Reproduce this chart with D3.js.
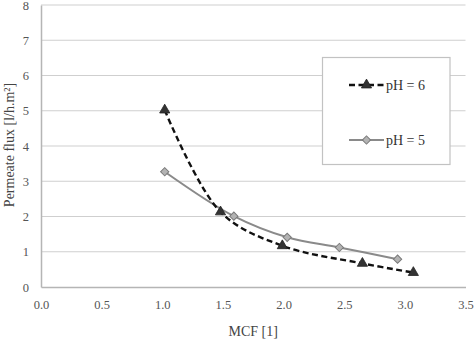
<!DOCTYPE html>
<html>
<head>
<meta charset="utf-8">
<script src="https://cdn.jsdelivr.net/npm/d3@7"></script>
<style>
  html, body { margin: 0; padding: 0; background: #fff; }
  svg { display: block; }
  svg text { font-family: "Liberation Serif", "Times New Roman", serif; }
</style>
</head>
<body>
<svg id="chart" width="474" height="340"></svg>
<script>
// Permeate flux against MCF for two pH levels
const mcfPH6 = [1.02, 1.48, 1.99, 2.65, 3.07];
const fluxPH6 = [5.02, 2.13, 1.17, 0.67, 0.41];
const mcfPH5 = [1.02, 1.59, 2.03, 2.46, 2.94];
const fluxPH5 = [3.27, 2.01, 1.41, 1.12, 0.79];
const xTicks = [0, 0.5, 1, 1.5, 2, 2.5, 3, 3.5];
const yTicks = [0, 1, 2, 3, 4, 5, 6, 7, 8];
const seriesNames = ["pH = 6", "pH = 5"];

const svg = d3.select("#chart");
const plot = { left: 41, right: 465.5, top: 5, bottom: 287 };
const serif = "'Liberation Serif', 'Times New Roman', serif";

const x = d3.scaleLinear().domain([0, 3.5]).range([plot.left, plot.right]);
const y = d3.scaleLinear().domain([0, 8]).range([plot.bottom, plot.top]);

// horizontal gridlines
svg.append("g")
  .selectAll("line")
  .data(yTicks.filter(d => d > 0))
  .join("line")
  .attr("x1", plot.left).attr("x2", plot.right)
  .attr("y1", d => y(d)).attr("y2", d => y(d))
  .attr("stroke", "#cfcfcf").attr("stroke-width", 1.2);

// axes
const xAxis = svg.append("g")
  .attr("transform", `translate(0,${plot.bottom})`)
  .call(d3.axisBottom(x).tickValues(xTicks).tickFormat(d3.format(".1f")).tickSize(0).tickPadding(13));
const yAxis = svg.append("g")
  .attr("transform", `translate(${plot.left},0)`)
  .call(d3.axisLeft(y).tickValues(yTicks).tickFormat(d3.format("d")).tickSize(0).tickPadding(12));

[xAxis, yAxis].forEach(g => {
  g.attr("font-family", serif).attr("font-size", 12.5);
  g.select(".domain").attr("stroke", "#b5b5b5").attr("stroke-width", 1.5);
  g.selectAll("text").attr("fill", "#555");
});

// axis titles
svg.append("text")
  .attr("x", (plot.left + plot.right) / 2).attr("y", 331)
  .attr("dy", "0.35em")
  .attr("text-anchor", "middle")
  .attr("fill", "#444")
  .attr("font-family", serif)
  .attr("font-size", 14)
  .text("MCF [1]");

svg.append("text")
  .attr("transform", "translate(9,145) rotate(-90)")
  .attr("dy", "0.35em")
  .attr("text-anchor", "middle")
  .attr("fill", "#444")
  .attr("font-family", serif)
  .attr("font-size", 14)
  .text("Permeate flux [l/h.m²]");

const line = d3.line()
  .x(d => x(d[0])).y(d => y(d[1]))
  .curve(d3.curveCatmullRom.alpha(0.5));

const ph6 = mcfPH6.map((v, i) => [v, fluxPH6[i]]);
const ph5 = mcfPH5.map((v, i) => [v, fluxPH5[i]]);

const tri = d3.symbol().type(d3.symbolTriangle).size(45);
const dia = d3.symbol().type(d3.symbolSquare).size(34);

// pH = 5 series
svg.append("path")
  .datum(ph5)
  .attr("d", line)
  .attr("fill", "none")
  .attr("stroke", "#8a8a8a")
  .attr("stroke-width", 2);
svg.append("g")
  .selectAll("path")
  .data(ph5)
  .join("path")
  .attr("d", dia)
  .attr("transform", d => `translate(${x(d[0])},${y(d[1])}) rotate(45)`)
  .attr("fill", "#b3b3b3")
  .attr("stroke", "#7a7a7a")
  .attr("stroke-width", 1);

// pH = 6 series
svg.append("path")
  .datum(ph6)
  .attr("d", line)
  .attr("fill", "none")
  .attr("stroke", "#111")
  .attr("stroke-width", 2.4)
  .attr("stroke-dasharray", "6,3.5");
svg.append("g")
  .selectAll("path")
  .data(ph6)
  .join("path")
  .attr("d", tri)
  .attr("transform", d => `translate(${x(d[0])},${y(d[1])})`)
  .attr("fill", "#333")
  .attr("stroke", "#222")
  .attr("stroke-width", 0.8);

// legend
const legend = svg.append("g");
legend.append("rect")
  .attr("x", 322.5).attr("y", 57.5)
  .attr("width", 127.5).attr("height", 107)
  .attr("fill", "#fff")
  .attr("stroke", "#c2c2c2")
  .attr("stroke-width", 1.2);

const legY = [85, 140];
// pH = 6 entry
legend.append("line")
  .attr("x1", 349).attr("x2", 384)
  .attr("y1", legY[0]).attr("y2", legY[0])
  .attr("stroke", "#111").attr("stroke-width", 2.4)
  .attr("stroke-dasharray", "6,3.5");
legend.append("path")
  .attr("d", tri)
  .attr("transform", `translate(366.5,${legY[0]})`)
  .attr("fill", "#333").attr("stroke", "#222").attr("stroke-width", 0.8);
// pH = 5 entry
legend.append("line")
  .attr("x1", 349).attr("x2", 384)
  .attr("y1", legY[1]).attr("y2", legY[1])
  .attr("stroke", "#8a8a8a").attr("stroke-width", 2);
legend.append("path")
  .attr("d", dia)
  .attr("transform", `translate(366.5,${legY[1]}) rotate(45)`)
  .attr("fill", "#b3b3b3").attr("stroke", "#7a7a7a").attr("stroke-width", 1);

legend.selectAll("text.lbl")
  .data(seriesNames)
  .join("text")
  .attr("class", "lbl")
  .attr("x", 386)
  .attr("y", (d, i) => legY[i])
  .attr("dy", "0.35em")
  .attr("fill", "#333")
  .attr("font-family", serif)
  .attr("font-size", 14)
  .text(d => d);
</script>
</body>
</html>
